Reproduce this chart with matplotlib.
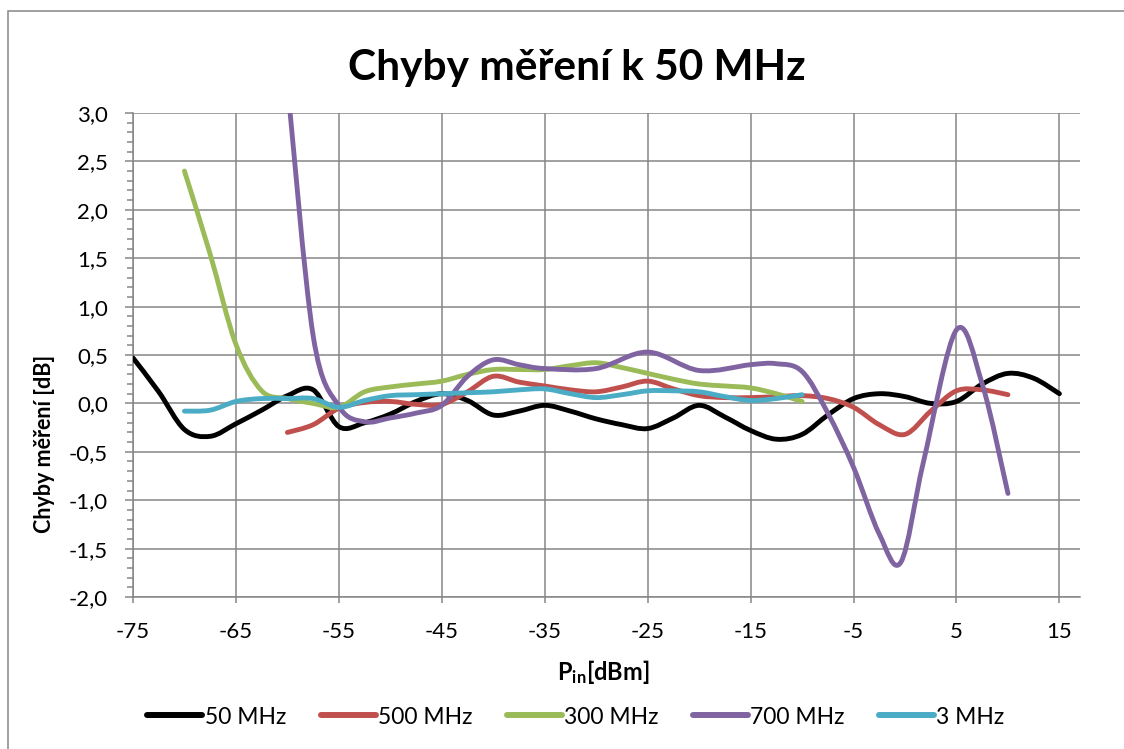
import numpy as np
import matplotlib
matplotlib.use('Agg')
import matplotlib.pyplot as plt
from matplotlib.path import Path
from matplotlib.patches import PathPatch, Rectangle
from matplotlib.lines import Line2D
from matplotlib.ticker import MultipleLocator, FuncFormatter

plt.rcParams['font.family'] = ['Lato', 'DejaVu Sans']
plt.rcParams['mathtext.fontset'] = 'custom'
plt.rcParams['mathtext.rm'] = 'Lato'
plt.rcParams['mathtext.bf'] = 'Lato:bold'

# --- data (P_in in dBm, error in dB) ---
x_50 = [-75, -72.5, -70, -67.5, -65, -62.5, -60, -57.5, -55, -52.5, -50, -47.5, -45,
        -42.5, -40, -37.5, -35, -32.5, -30, -27.5, -25, -22.5, -20, -17.5, -15,
        -12.5, -10, -7.5, -5, -2.5, 0, 2.5, 5, 7.5, 10, 12.5, 15]
y_50 = [0.47, 0.12, -0.27, -0.34, -0.21, -0.07, 0.08, 0.14, -0.24, -0.20, -0.11, 0.02, 0.10,
        0.03, -0.12, -0.08, -0.02, -0.08, -0.16, -0.22, -0.26, -0.15, -0.02, -0.14, -0.28,
        -0.37, -0.32, -0.12, 0.05, 0.10, 0.07, 0.00, 0.02, 0.20, 0.31, 0.26, 0.10]

x_500 = [-60, -57.5, -55, -52.5, -50, -47.5, -45, -42.5, -40, -37.5, -35, -32.5, -30,
         -27.5, -25, -22.5, -20, -17.5, -15, -12.5, -10, -7.5, -5, -2.5, 0, 2.5, 5, 7.5, 10]
y_500 = [-0.30, -0.22, -0.05, 0.01, 0.02, -0.01, -0.01, 0.12, 0.28, 0.22, 0.18, 0.14, 0.12,
         0.17, 0.23, 0.15, 0.08, 0.06, 0.06, 0.07, 0.08, 0.05, -0.04, -0.22, -0.32, -0.08,
         0.13, 0.14, 0.09]

x_300 = [-70, -67.5, -65, -62.5, -60, -57.5, -55, -52.5, -50, -47.5, -45, -42.5, -40,
         -37.5, -35, -32.5, -30, -27.5, -25, -22.5, -20, -17.5, -15, -12.5, -10]
y_300 = [2.40, 1.54, 0.61, 0.13, 0.05, 0.00, -0.04, 0.12, 0.17, 0.20, 0.23, 0.30, 0.35,
         0.35, 0.35, 0.39, 0.42, 0.37, 0.31, 0.25, 0.20, 0.18, 0.16, 0.10, 0.02]

x_700 = [-60, -57.5, -55, -52.5, -50, -47.5, -45, -42.5, -40, -37.5, -35, -30, -25,
         -20, -15, -12.5, -10, -7.5, -5, -2.5, -0.4, 1.8, 5, 7.5, 10]
y_700 = [3.30, 0.70, -0.03, -0.19, -0.15, -0.10, -0.02, 0.28, 0.45, 0.40, 0.36, 0.36, 0.53,
         0.34, 0.40, 0.41, 0.33, -0.10, -0.66, -1.35, -1.64, -0.60, 0.76, 0.20, -0.93]

x_3 = [-70, -67.5, -65, -62.5, -60, -57.5, -55, -52.5, -50, -47.5, -45, -42.5, -40,
       -37.5, -35, -32.5, -30, -27.5, -25, -22.5, -20, -17.5, -15, -12.5, -10]
y_3 = [-0.08, -0.07, 0.02, 0.05, 0.05, 0.05, -0.04, 0.03, 0.08, 0.09, 0.10, 0.11, 0.12,
       0.14, 0.15, 0.10, 0.06, 0.09, 0.13, 0.13, 0.12, 0.07, 0.03, 0.05, 0.09]

labels = ['50 MHz', '500 MHz', '300 MHz', '700 MHz', '3 MHz']
colors = ['#000000', '#C0504D', '#9BBB59', '#8064A2', '#4BACC6']
series = [(x_50, y_50), (x_500, y_500), (x_300, y_300), (x_700, y_700), (x_3, y_3)]

GRID = '#868686'


def smooth_path(x, y):
    # Excel-like smoothed line: cubic Bezier through the points (Catmull-Rom tangents)
    p = np.column_stack([x, y]).astype(float)
    pts = np.vstack([p[0], p, p[-1]])
    verts = [p[0]]
    codes = [Path.MOVETO]
    for i in range(1, len(pts) - 2):
        p0, p1, p2, p3 = pts[i - 1], pts[i], pts[i + 1], pts[i + 2]
        c1 = p1 + (p2 - p0) / 6.0
        c2 = p2 - (p3 - p1) / 6.0
        verts += [c1, c2, p2]
        codes += [Path.CURVE4] * 3
    return Path(verts, codes)


fig = plt.figure(figsize=(11.24, 7.49), dpi=100)
ax = fig.add_axes([133 / 1124, 1 - 597 / 749, (1080 - 133) / 1124, (597 - 113) / 749])

for (xs, ys), c in zip(series, colors):
    ax.add_patch(PathPatch(smooth_path(xs, ys), facecolor='none', edgecolor=c,
                           lw=3.5, capstyle='round', joinstyle='round', zorder=3))

ax.set_xlim(-75, 17)
ax.set_ylim(-2.0, 3.0)
ax.set_xticks(np.arange(-75, 16, 10))
ax.yaxis.set_major_locator(MultipleLocator(0.5))
ax.yaxis.set_minor_locator(MultipleLocator(0.1))
ax.yaxis.set_major_formatter(FuncFormatter(lambda v, _: f'{v:.1f}'.replace('.', ',')))
ax.xaxis.set_major_formatter(FuncFormatter(lambda v, _: f'{v:.0f}'))

ax.grid(True, which='major', color=GRID, lw=1.1)
ax.set_axisbelow(True)
for s in ['top', 'right']:
    ax.spines[s].set_visible(False)
for s in ['left', 'bottom']:
    ax.spines[s].set_color(GRID)
    ax.spines[s].set_linewidth(1.1)
ax.tick_params(axis='y', which='major', direction='out', length=6, width=1.1,
               color=GRID, labelsize=16, pad=12)
ax.tick_params(axis='y', which='minor', direction='out', length=4.5, width=1.1, color=GRID)
ax.tick_params(axis='x', which='major', direction='out', length=4, width=1.1,
               color=GRID, labelsize=16, pad=14)

fig.text(577 / 1124, 1 - 68 / 749, 'Chyby měření k 50 MHz', ha='center', va='center',
         fontsize=30.5, fontweight='bold')
fig.text(45 / 1124, 1 - 444 / 749, 'Chyby měření [dB]', ha='center', va='center',
         rotation=90, fontsize=15.5, fontweight='bold')
fig.text(603 / 1124, 1 - 672 / 749, r'$\mathbf{P_{in}}$[dBm]', ha='center', va='center',
         fontsize=17, fontweight='bold')

handles = [Line2D([], [], color=c, lw=4.3, solid_capstyle='round') for c in colors]
fig.legend(handles, labels, loc='center', bbox_to_anchor=(576 / 1124, 1 - 717 / 749),
           ncol=5, frameon=False, fontsize=16.5, handlelength=2.4, handletextpad=0.1,
           columnspacing=1.5)

# chart frame (continues past the right/bottom edge in the reference)
fig.patches.append(Rectangle((8 / 1124, -0.05), 1.1, 1 - 11 / 749 + 0.05,
                             transform=fig.transFigure, fill=False, edgecolor=GRID, lw=1.1))

fig.savefig('out.png', dpi=100)
